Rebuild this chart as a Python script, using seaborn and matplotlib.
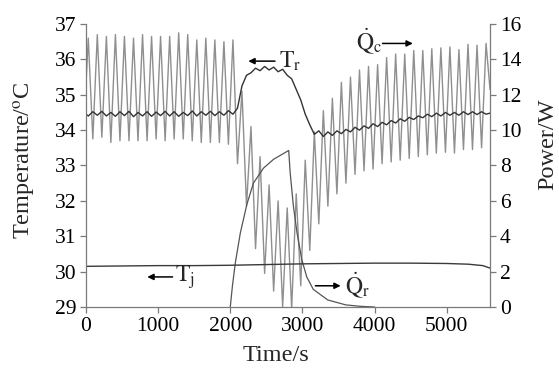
import matplotlib
matplotlib.use("Agg")
import matplotlib.pyplot as plt
import seaborn as sns
import pandas as pd

# ---- data ----
time_s = [0,
          32, 95, 157, 220, 283, 345, 408, 471, 533, 596, 659, 721, 784, 847,
          909, 972, 1034, 1097, 1160, 1222, 1285, 1348, 1410, 1473, 1536, 1598,
          1661, 1724, 1786, 1849, 1912, 1974, 2037, 2100, 2162, 2225, 2287, 2350,
          2413, 2476, 2538, 2601, 2663, 2726, 2789, 2851, 2914, 2977, 3039, 3102,
          3165, 3227, 3290, 3353, 3415, 3478, 3540, 3603, 3666, 3729, 3791, 3854,
          3916, 3979, 4042, 4104, 4167, 4230, 4292, 4355, 4418, 4480, 4543, 4606,
          4668, 4731, 4793, 4856, 4919, 4982, 5044, 5107, 5169, 5232, 5295, 5357,
          5420, 5483, 5545,
          5600]

qc_w = [12.6,
        15.2, 9.5, 15.4, 9.6, 15.3, 9.3, 15.4, 9.4, 15.3, 9.4, 15.2, 9.4, 15.4, 9.4,
        15.3, 9.5, 15.3, 9.4, 15.3, 9.5, 15.5, 9.5, 15.4, 9.4, 15.1, 9.3,
        15.2, 9.3, 15.1, 9.3, 15.0, 9.2, 15.1, 8.1, 12.2, 5.7, 10.2, 3.3,
        8.5, 1.9, 6.9, 0.9, 6.0, 0.0, 5.6, -0.1, 6.4, 1.2, 8.3, 3.2,
        9.9, 4.7, 11.1, 5.7, 11.8, 6.4, 12.7, 7.0, 13.0, 7.5, 13.4, 7.7,
        13.6, 7.8, 13.7, 8.1, 14.1, 8.2, 14.3, 8.3, 14.3, 8.4, 14.5, 8.5,
        14.5, 8.6, 14.6, 8.7, 14.65, 8.75, 14.7, 8.7, 14.55, 8.9, 14.85, 8.9,
        14.8, 9.0, 14.9,
        12.3]

tr_c = [34.45,
        34.40, 34.52, 34.42, 34.53, 34.40, 34.50, 34.39, 34.52, 34.41, 34.53, 34.38, 34.50, 34.40, 34.52,
        34.39, 34.51, 34.41, 34.53, 34.40, 34.52, 34.39, 34.50, 34.41, 34.54, 34.40, 34.52,
        34.42, 34.53, 34.41, 34.52, 34.42, 34.55, 34.45, 34.62, 35.25, 35.55, 35.62, 35.75,
        35.68, 35.80, 35.70, 35.78, 35.65, 35.72, 35.55, 35.45, 35.15, 34.85, 34.45, 34.15,
        33.88, 33.98, 33.82, 33.95, 33.85, 33.98, 33.90, 34.02, 33.95, 34.08, 34.00, 34.12,
        34.05, 34.18, 34.10, 34.22, 34.15, 34.27, 34.20, 34.32, 34.25, 34.36, 34.30, 34.40,
        34.35, 34.45, 34.38, 34.48, 34.40, 34.50, 34.42, 34.50, 34.42, 34.52, 34.44, 34.52,
        34.44, 34.52, 34.45,
        34.48]

tj_time = [0, 500, 1000, 1500, 2000, 2500, 3000, 3500, 4000, 4500, 5000, 5300, 5500, 5600]
tj_c = [30.15, 30.16, 30.17, 30.17, 30.18, 30.20, 30.22, 30.23, 30.24, 30.24, 30.23, 30.21, 30.17, 30.10]

qr_time = [2000, 2030, 2070, 2140, 2230, 2320, 2460, 2600, 2810,
           2830, 2875, 2925, 2990, 3060, 3150, 3350, 3600, 3800, 4000]
qr_w = [0.0, 1.2, 2.5, 4.2, 5.8, 7.0, 7.85, 8.35, 8.85,
        7.6, 5.7, 4.2, 2.7, 1.7, 1.0, 0.4, 0.12, 0.04, 0.0]

x_ticks = [0, 1000, 2000, 3000, 4000, 5000]
temp_ticks = [29, 30, 31, 32, 33, 34, 35, 36, 37]
power_ticks = [0, 2, 4, 6, 8, 10, 12, 14, 16]

# ---- style ----
sns.set_style("ticks")
plt.rcParams["font.family"] = ["Liberation Serif", "DejaVu Serif"]
plt.rcParams["mathtext.fontset"] = "stix"

SPINE = "#7a7a7a"

fig = plt.figure(figsize=(5.59, 3.69), dpi=100)
ax = fig.add_axes([0.1538, 0.168, 0.7228, 0.767])
ax2 = ax.twinx()

df_main = pd.DataFrame({"t": time_s, "qc": qc_w, "tr": tr_c})
df_tj = pd.DataFrame({"t": tj_time, "tj": tj_c})
df_qr = pd.DataFrame({"t": qr_time, "qr": qr_w})

sns.lineplot(data=df_main, x="t", y="qc", ax=ax2, color="#8f8f8f", lw=1.0,
             sort=False, estimator=None)
sns.lineplot(data=df_qr, x="t", y="qr", ax=ax2, color="#555555", lw=0.9,
             sort=False, estimator=None)
sns.lineplot(data=df_main, x="t", y="tr", ax=ax, color="#333333", lw=1.0,
             sort=False, estimator=None)
sns.lineplot(data=df_tj, x="t", y="tj", ax=ax, color="#3a3a3a", lw=1.0,
             sort=False, estimator=None)

ax.set_zorder(ax2.get_zorder() + 1)
ax.patch.set_visible(False)

ax.set_xlim(0, 5600)
ax.set_ylim(29, 37)
ax2.set_ylim(0, 16)
ax.set_xticks(x_ticks)
ax.set_yticks(temp_ticks)
ax2.set_yticks(power_ticks)

for a in (ax, ax2):
    a.spines["top"].set_visible(False)
    for s in a.spines.values():
        s.set_color(SPINE)
        s.set_linewidth(0.9)
    a.tick_params(colors=SPINE, labelcolor="black", labelsize=15.5, length=4, width=0.9, pad=3)
ax.spines["right"].set_visible(False)
ax2.spines["left"].set_visible(False)
ax2.spines["bottom"].set_visible(False)

ax.set_xlabel("Time/s", fontsize=17.5)
ax.xaxis.set_label_coords(0.47, -0.135)
ax.set_ylabel(r"Temperature/$^{\mathrm{o}}$C", fontsize=17.5)
ax.yaxis.set_label_coords(-0.118, 0.52)
ax2.set_ylabel("Power/W", fontsize=17.5, rotation=90)
ax2.yaxis.set_label_coords(1.117, 0.575)

arrow = dict(arrowstyle="-|>", color="black", lw=1.1, mutation_scale=9, shrinkA=0, shrinkB=0)
# T_r
ax.annotate("", xy=(2250, 35.95), xytext=(2620, 35.95), arrowprops=arrow)
ax.text(2680, 35.95, r"$\mathrm{T_r}$", fontsize=17, va="center", ha="left")
# Qc
ax.annotate("", xy=(4530, 36.45), xytext=(4110, 36.45), arrowprops=arrow)
ax.text(3740, 36.52, r"$\dot{\mathrm{Q}}_{\mathrm{c}}$", fontsize=17, va="center", ha="left")
# T_j
ax.annotate("", xy=(850, 29.85), xytext=(1200, 29.85), arrowprops=arrow)
ax.text(1230, 29.85, r"$\mathrm{T_j}$", fontsize=17, va="center", ha="left")
# Qr
ax.annotate("", xy=(3530, 29.6), xytext=(3180, 29.6), arrowprops=arrow)
ax.text(3590, 29.62, r"$\dot{\mathrm{Q}}_{\mathrm{r}}$", fontsize=17, va="center", ha="left")

fig.savefig("out.png", dpi=100)
